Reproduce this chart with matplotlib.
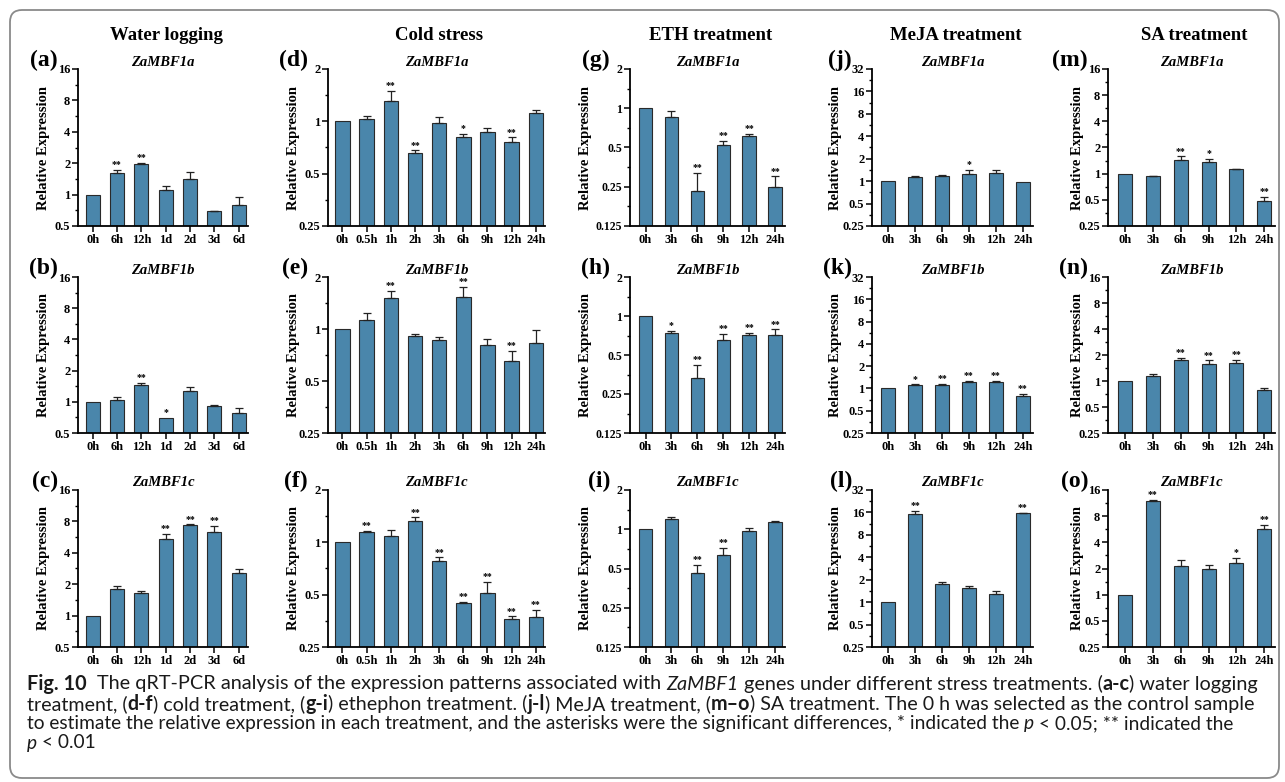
import numpy as np
import matplotlib
matplotlib.use("Agg")
import matplotlib.pyplot as plt
from matplotlib.ticker import FixedLocator, FixedFormatter, NullFormatter
from matplotlib.patches import FancyBboxPatch

# ---------------- data ----------------
col_titles = ["Water logging", "Cold stress", "ETH treatment", "MeJA treatment", "SA treatment"]
gene_names = ["ZaMBF1a", "ZaMBF1b", "ZaMBF1c"]
panel_letters = [["(a)", "(b)", "(c)"], ["(d)", "(e)", "(f)"], ["(g)", "(h)", "(i)"],
                 ["(j)", "(k)", "(l)"], ["(m)", "(n)", "(o)"]]

x_water = ["0h", "6h", "12h", "1d", "2d", "3d", "6d"]
x_cold = ["0h", "0.5h", "1h", "2h", "3h", "6h", "9h", "12h", "24h"]
x_hormone = ["0h", "3h", "6h", "9h", "12h", "24h"]

ylim_water = (0.5, 16)
ylim_cold = (0.25, 2)
ylim_eth = (0.125, 2)
ylim_meja = (0.25, 32)
ylim_sa = (0.25, 16)

a_mean = [1.0, 1.62, 1.97, 1.10, 1.41, 0.69, 0.80]
a_sd = [0, 0.10, 0.06, 0.12, 0.23, 0.01, 0.15]
a_sig = ["", "**", "**", "", "", "", ""]
b_mean = [1.0, 1.05, 1.45, 0.70, 1.26, 0.92, 0.78]
b_sd = [0, 0.07, 0.07, 0, 0.13, 0.02, 0.10]
b_sig = ["", "", "**", "*", "", "", ""]
c_mean = [1.0, 1.81, 1.63, 5.37, 7.35, 6.35, 2.54]
c_sd = [0, 0.11, 0.09, 0.73, 0.15, 0.95, 0.23]
c_sig = ["", "", "", "**", "**", "**", ""]

d_mean = [1.0, 1.036, 1.31, 0.66, 0.978, 0.81, 0.87, 0.76, 1.12]
d_sd = [0, 0.034, 0.19, 0.02, 0.08, 0.04, 0.04, 0.05, 0.04]
d_sig = ["", "", "**", "**", "", "*", "", "**", ""]
e_mean = [1.0, 1.12, 1.52, 0.91, 0.86, 1.53, 0.81, 0.65, 0.83]
e_sd = [0, 0.12, 0.15, 0.03, 0.04, 0.23, 0.06, 0.10, 0.16]
e_sig = ["", "", "**", "", "", "**", "", "**", ""]
f_mean = [1.0, 1.15, 1.09, 1.32, 0.78, 0.45, 0.51, 0.36, 0.37]
f_sd = [0, 0.01, 0.09, 0.07, 0.04, 0.005, 0.08, 0.015, 0.04]
f_sig = ["", "**", "", "**", "**", "**", "**", "**", "**"]

g_mean = [1.0, 0.85, 0.23, 0.52, 0.61, 0.25]
g_sd = [0, 0.10, 0.09, 0.04, 0.03, 0.05]
g_sig = ["", "", "**", "**", "**", "**"]
h_mean = [1.0, 0.74, 0.335, 0.65, 0.71, 0.71]
h_sd = [0, 0.03, 0.085, 0.08, 0.03, 0.08]
h_sig = ["", "*", "**", "**", "**", "**"]
i_mean = [1.0, 1.19, 0.46, 0.64, 0.97, 1.14]
i_sd = [0, 0.05, 0.07, 0.08, 0.05, 0.02]
i_sig = ["", "", "**", "**", "", ""]

j_mean = [1.0, 1.14, 1.18, 1.24, 1.28, 0.98]
j_sd = [0, 0.04, 0.02, 0.17, 0.13, 0]
j_sig = ["", "", "", "*", "", ""]
k_mean = [1.0, 1.10, 1.12, 1.23, 1.22, 0.80]
k_sd = [0, 0.04, 0.03, 0.04, 0.05, 0.04]
k_sig = ["", "*", "**", "**", "**", "**"]
l_mean = [1.0, 15.2, 1.77, 1.56, 1.30, 15.5]
l_sd = [0, 1.6, 0.11, 0.10, 0.12, 0.3]
l_sig = ["", "**", "", "", "", "**"]

m_mean = [1.0, 0.93, 1.42, 1.36, 1.13, 0.48]
m_sd = [0, 0.02, 0.16, 0.13, 0.01, 0.06]
m_sig = ["", "", "**", "*", "", "**"]
n_mean = [1.0, 1.14, 1.73, 1.59, 1.63, 0.79]
n_sd = [0, 0.08, 0.13, 0.14, 0.14, 0.05]
n_sig = ["", "", "**", "**", "**", ""]
o_mean = [1.0, 12.1, 2.16, 1.99, 2.31, 5.64]
o_sd = [0, 0.3, 0.34, 0.20, 0.33, 0.69]
o_sig = ["", "**", "", "", "*", "**"]

columns = [
    (x_water, ylim_water, [(a_mean, a_sd, a_sig), (b_mean, b_sd, b_sig), (c_mean, c_sd, c_sig)]),
    (x_cold, ylim_cold, [(d_mean, d_sd, d_sig), (e_mean, e_sd, e_sig), (f_mean, f_sd, f_sig)]),
    (x_hormone, ylim_eth, [(g_mean, g_sd, g_sig), (h_mean, h_sd, h_sig), (i_mean, i_sd, i_sig)]),
    (x_hormone, ylim_meja, [(j_mean, j_sd, j_sig), (k_mean, k_sd, k_sig), (l_mean, l_sd, l_sig)]),
    (x_hormone, ylim_sa, [(m_mean, m_sd, m_sig), (n_mean, n_sd, n_sig), (o_mean, o_sd, o_sig)]),
]

# ---------------- layout ----------------
W, H = 1285, 782
fig = plt.figure(figsize=(W / 100, H / 100), dpi=100)
fig.patch.set_facecolor("white")

SERIF = "Liberation Serif"
BAR_COLOR = "#4A86AB"

col_lr = [(78, 248), (328, 545), (630, 785), (872, 1033), (1108, 1275)]
row_tb = [(69, 226), (277, 433), (490, 647)]
bar_w = [0.58, 0.6, 0.52, 0.52, 0.5]
ylab_off = [34, 35, 44, 36, 31]
ytick_size = [9, 9, 8.5, 9, 9]


def fx(px):
    return px / W


def fy(py):
    return 1 - py / H


for ci, (xlabels, ylim, panels) in enumerate(columns):
    L, R = col_lr[ci]
    fig.text(fx((L + R) / 2 + 3), fy(35), col_titles[ci], ha="center", va="center",
             fontsize=13.5, fontweight="bold", family=SERIF)
    lo, hi = ylim
    majors = [lo * 2 ** k for k in range(int(round(np.log2(hi / lo))) + 1)]
    minors = [v * np.sqrt(2) for v in majors[:-1]]
    for ri, (mean, sd, sig) in enumerate(panels):
        T, B = row_tb[ri]
        ax = fig.add_axes([fx(L), fy(B), fx(R - L), (B - T) / H])
        n = len(mean)
        x = np.arange(n)
        mean = np.asarray(mean, float)
        sd = np.asarray(sd, float)
        ax.set_yscale("log", base=2)
        ax.bar(x, mean - lo, bottom=lo, width=bar_w[ci], color=BAR_COLOR,
               edgecolor="#2a2a2a", linewidth=0.8, zorder=2)
        show = sd > 0.004
        ax.errorbar(x[show], mean[show], yerr=[np.zeros(show.sum()), sd[show]], fmt="none",
                    ecolor="#222222", elinewidth=0.9, capsize=3.2, capthick=0.9, zorder=3)
        for xi, m, s, st in zip(x, mean, sd, sig):
            if st:
                ax.annotate(st, (xi, m + s), xytext=(0, 0.5), textcoords="offset points",
                            ha="center", va="bottom", fontsize=7, fontweight="bold",
                            family=SERIF)
        ax.set_ylim(lo, hi)
        ax.set_xlim(-0.6, n - 0.62)
        ax.yaxis.set_major_locator(FixedLocator(majors))
        ax.yaxis.set_major_formatter(FixedFormatter(["%g" % v for v in majors]))
        ax.yaxis.set_minor_locator(FixedLocator(minors))
        ax.yaxis.set_minor_formatter(NullFormatter())
        ax.set_xticks(x)
        ax.set_xticklabels(xlabels)
        for sp in ("top", "right"):
            ax.spines[sp].set_visible(False)
        for sp in ("left", "bottom"):
            ax.spines[sp].set_linewidth(1.3)
        ax.tick_params(axis="both", which="major", length=4, width=1.1, pad=2, labelsize=9)
        ax.tick_params(axis="y", which="major", labelsize=ytick_size[ci], pad=1.5)
        ax.tick_params(axis="y", which="minor", length=2.5, width=1.0)
        for lab in ax.get_xticklabels() + ax.get_yticklabels():
            lab.set_family(SERIF)
            lab.set_fontweight("bold")
        ax.set_facecolor("none")
        # gene name, panel letter, y label
        fig.text(fx((L + R) / 2), fy(T - 7), gene_names[ri], ha="center", va="center",
                 fontsize=10.5, fontweight="bold", style="italic", family=SERIF)
        fig.text(fx(L - 20), fy(T - 9), panel_letters[ci][ri], ha="right", va="center",
                 fontsize=17, fontweight="bold", family=SERIF)
        fig.text(fx(L - ylab_off[ci]), fy((T + B) / 2), "Relative Expression", ha="center",
                 va="center", rotation=90, fontsize=10.5, fontweight="bold", family=SERIF)

# ---------------- border ----------------
box = FancyBboxPatch((10, 4), W - 16, H - 14, boxstyle="round,pad=0,rounding_size=12",
                     transform=None, facecolor="none", edgecolor="#8a8a8a", linewidth=1.3)
fig.patches.append(box)

# ---------------- caption ----------------
CAP_FONT = "Lato"
caption_lines = [
    [("Fig. 10", "bold", "normal"), ("  The qRT-PCR analysis of the expression patterns associated with ", "normal", "normal"),
     ("ZaMBF1", "normal", "italic"), (" genes under different stress treatments. (", "normal", "normal"),
     ("a-c", "bold", "normal"), (") water logging", "normal", "normal")],
    [("treatment, (", "normal", "normal"), ("d-f", "bold", "normal"), (") cold treatment, (", "normal", "normal"),
     ("g-i", "bold", "normal"), (") ethephon treatment. (", "normal", "normal"), ("j-l", "bold", "normal"),
     (") MeJA treatment, (", "normal", "normal"), ("m\u2013o", "bold", "normal"),
     (") SA treatment. The 0 h was selected as the control sample", "normal", "normal")],
    [("to estimate the relative expression in each treatment, and the asterisks were the significant differences, * indicated the ", "normal", "normal"),
     ("p", "normal", "italic"), (" < 0.05; ** indicated the", "normal", "normal")],
    [("p", "normal", "italic"), (" < 0.01", "normal", "normal")],
]
caption_y = [684, 704, 723.5, 743]
caption_target_w = [1231, 1221, 1205, None]

renderer = fig.canvas.get_renderer()


def text_width(s, size, weight, style):
    t = fig.text(0, 0, s, fontsize=size, fontweight=weight, style=style, family=CAP_FONT)
    w = t.get_window_extent(renderer).width
    t.remove()
    return w


def space_width(size):
    return text_width("a a", size, "normal", "normal") - text_width("aa", size, "normal", "normal")


def run_width(s, size, weight, style, sp):
    core = s.strip(" ")
    lead = len(s) - len(s.lstrip(" "))
    trail = len(s) - len(s.rstrip(" "))
    w = text_width(core, size, weight, style) if core else 0
    return lead * sp, w, trail * sp


def line_width(runs, size):
    sp = space_width(size)
    tot = 0
    for s, wgt, sty in runs:
        a, b, c = run_width(s, size, wgt, sty, sp)
        tot += a + b + c
    return tot


base = 11.0
size = base
for runs, yy, tw in zip(caption_lines, caption_y, caption_target_w):
    if tw is not None:
        size = base * tw / line_width(runs, base)
    sp = space_width(size)
    xpos = 27.0
    for s, wgt, sty in runs:
        a, b, c = run_width(s, size, wgt, sty, sp)
        xpos += a
        core = s.strip(" ")
        if core:
            fig.text(fx(xpos), fy(yy), core, fontsize=size, fontweight=wgt, style=sty,
                     family=CAP_FONT, ha="left", va="center", color="#1a1a1a")
        xpos += b + c

fig.savefig("out.png", dpi=100, facecolor="white")
